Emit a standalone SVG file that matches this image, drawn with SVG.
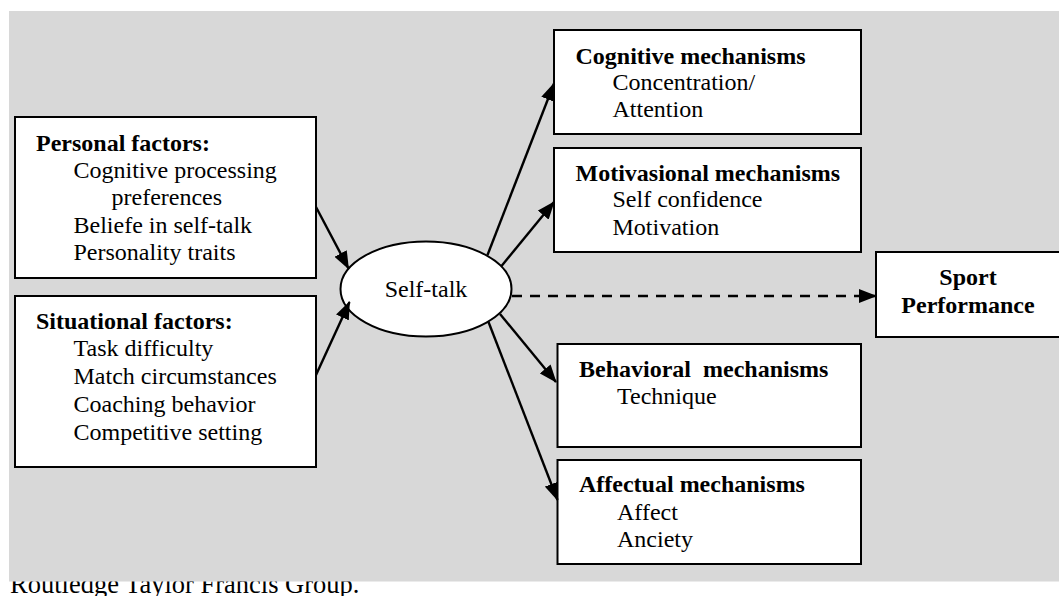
<svg xmlns="http://www.w3.org/2000/svg" width="1059" height="596" viewBox="0 0 1059 596">
<style>
text{font-family:"Liberation Serif","Times New Roman",serif;font-size:24px;fill:#000}
.b{font-weight:bold}
.box{fill:#fff;stroke:#000;stroke-width:2}
.c{stroke:#000;stroke-width:2.4;fill:none}
</style>
<defs>
<marker id="ah" markerUnits="userSpaceOnUse" markerWidth="18" markerHeight="14" refX="17" refY="7" orient="auto">
<path d="M0,0 L18,7 L0,14 z" fill="#000"/>
</marker>
</defs>
<rect width="1059" height="596" fill="#fff"/>
<text x="10" y="593" style="font-size:26.5px">Routledge Taylor Francis Group.</text>
<rect x="9" y="11" width="1050" height="570.5" fill="#d8d8d8"/>

<g id="personal">
<rect class="box" x="15" y="117" width="301" height="161"/>
<text class="b" x="36" y="151">Personal factors:</text>
<text x="73.5" y="178">Cognitive processing</text>
<text x="111.5" y="205">preferences</text>
<text x="73.5" y="232.5">Beliefe in self-talk</text>
<text x="73.5" y="260">Personality traits</text>
</g>

<g id="situational">
<rect class="box" x="15" y="296" width="301" height="171"/>
<text class="b" x="36" y="328.5">Situational factors:</text>
<text x="73.5" y="356">Task difficulty</text>
<text x="73.5" y="384">Match circumstances</text>
<text x="73.5" y="412">Coaching behavior</text>
<text x="73.5" y="440">Competitive setting</text>
</g>

<g id="selftalk">
<ellipse cx="426" cy="289" rx="85.5" ry="47.5" fill="#fff" stroke="#000" stroke-width="2"/>
<text x="426" y="297" text-anchor="middle">Self-talk</text>
</g>

<g id="cognitive">
<rect class="box" x="554" y="30" width="307" height="104"/>
<text class="b" x="575.5" y="63.5">Cognitive mechanisms</text>
<text x="612.5" y="90">Concentration/</text>
<text x="612.5" y="117">Attention</text>
</g>

<g id="motivational">
<rect class="box" x="554" y="148" width="307" height="104"/>
<text class="b" x="575.5" y="181">Motivasional mechanisms</text>
<text x="612.5" y="207">Self confidence</text>
<text x="612.5" y="235">Motivation</text>
</g>

<g id="sport">
<rect class="box" x="876" y="252" width="186" height="85"/>
<text class="b" x="968" y="285" text-anchor="middle">Sport</text>
<text class="b" x="968" y="313" text-anchor="middle">Performance</text>
</g>

<g id="behavioral">
<rect class="box" x="557.5" y="344" width="303.5" height="103"/>
<text class="b" x="579" y="377" xml:space="preserve">Behavioral  mechanisms</text>
<text x="617" y="403.5">Technique</text>
</g>

<g id="affectual">
<rect class="box" x="557.5" y="460" width="303.5" height="104"/>
<text class="b" x="579" y="492">Affectual mechanisms</text>
<text x="617" y="519.5">Affect</text>
<text x="617" y="547">Anciety</text>
</g>

<g id="connectors">
<line class="c" x1="316" y1="207" x2="348.5" y2="268.5" marker-end="url(#ah)"/>
<line class="c" x1="316" y1="375" x2="349.5" y2="302" marker-end="url(#ah)"/>
<line class="c" x1="487.5" y1="255" x2="554" y2="83.5" marker-end="url(#ah)"/>
<line class="c" x1="501.5" y1="266" x2="554" y2="202" marker-end="url(#ah)"/>
<line class="c" x1="500" y1="314" x2="556" y2="382" marker-end="url(#ah)"/>
<line class="c" x1="488.5" y1="322" x2="557.5" y2="500" marker-end="url(#ah)"/>
<line class="c" x1="512" y1="296" x2="876" y2="296" stroke-dasharray="10 8" marker-end="url(#ah)"/>
</g>
</svg>
